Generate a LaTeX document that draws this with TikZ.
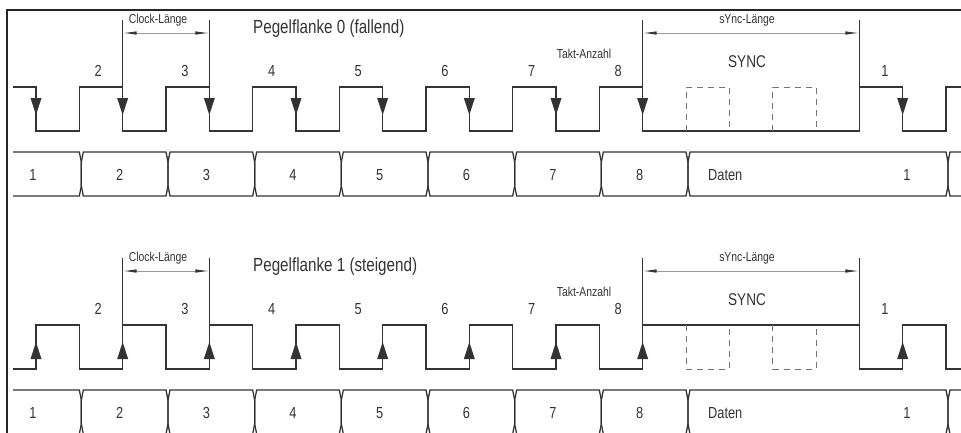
\documentclass[tikz,border=0pt]{standalone}
\usepackage{fontspec}
\setmainfont[FakeStretch=0.8]{Liberation Sans}
\usetikzlibrary{arrows.meta}

\newcommand{\hp}{43.333}

\begin{document}
\begin{tikzpicture}[x=1pt,y=-1pt,
		sig/.style={draw=black!80,line width=1.6pt},
		bus/.style={draw=black!80,line width=1.3pt},
		ghost/.style={draw=black!55,line width=1pt,dash pattern=on 6pt off 5pt},
		helpline/.style={draw=black!80,line width=0.9pt},
		dimline/.style={draw=black!40,line width=0.9pt,>={Latex[length=14pt,width=3.5pt,color=black!80]},<->},
		flank/.style={fill=black!80},
		title/.style={anchor=base west,inner sep=0pt,text=black!80,font=\fontsize{19}{19}\selectfont},
		num/.style={anchor=base,inner sep=0pt,text=black!80,font=\fontsize{16}{16}\selectfont},
		small/.style={anchor=base,inner sep=0pt,text=black!80,font=\fontsize{13}{13}\selectfont}]
		\clip (0,0) rectangle (961,432);
		\draw[black!85,line width=2.4pt] (7,440) -- (7,10) -- (970,10);

		\begin{scope}
			\draw[sig] (13,87) foreach \k in {0,...,6} { -- ({36+2*\k*\hp},87) -- ({36+2*\k*\hp},131) -- ({36+(2*\k+1)*\hp},131) -- ({36+(2*\k+1)*\hp},87) }
				-- ({36+14*\hp},87) -- ({36+14*\hp},131) -- ({36+19*\hp},131) -- ({36+19*\hp},87)
				-- ({36+20*\hp},87) -- ({36+20*\hp},131) -- ({36+21*\hp},131) -- ({36+21*\hp},87) -- (961,87);
			\foreach \n in {0,2,4,6,8,10,12,14,20}
				\fill[flank] ({36+\n*\hp-5.5},98) -- ({36+\n*\hp+5.5},98) -- ({36+\n*\hp},115) -- cycle;
			\foreach \n in {15,17}
				\draw[ghost] ({36+\n*\hp},131) -- ({36+\n*\hp},87) -- ({36+(\n+1)*\hp},87) -- ({36+(\n+1)*\hp},131);

			\draw[bus] (13,152) -- ({38+\hp-2},152) -- ({38+\hp},162) -- ({38+\hp},186) -- ({38+\hp-2},196) -- (13,196);
			\foreach \a/\b in {1/3,3/5,5/7,7/9,9/11,11/13,13/15,15/21}
				\draw[bus] ({38+\a*\hp+2},152) -- ({38+\b*\hp-2},152) -- ({38+\b*\hp},162) -- ({38+\b*\hp},186) -- ({38+\b*\hp-2},196)
					-- ({38+\a*\hp+2},196) -- ({38+\a*\hp},186) -- ({38+\a*\hp},162) -- cycle;
			\draw[bus] (975,152) -- ({38+21*\hp+2},152) -- ({38+21*\hp},162) -- ({38+21*\hp},186) -- ({38+21*\hp+2},196) -- (975,196);

			\draw[helpline] ({36+2*\hp},20) -- ({36+2*\hp},87);
			\draw[helpline] ({36+4*\hp},20) -- ({36+4*\hp},87);
			\draw[dimline] ({36+2*\hp},33) -- ({36+4*\hp},33);
			\draw[helpline] ({36+14*\hp},20) -- ({36+14*\hp},87);
			\draw[helpline] ({36+19*\hp},20) -- ({36+19*\hp},87);
			\draw[dimline] ({36+14*\hp},33) -- ({36+19*\hp},33);

			\node[small] (clockA) at (158,23) {Clock-Länge};
			\node[small] (synclenA) at (747,23) {sYnc-Länge};
			\node[title] (titleA) at (253,33) {Pegelflanke 0 (fallend)};
			\node[small] (taktA) at (584,58) {Takt-Anzahl};
			\node[num,font=\fontsize{17}{17}\selectfont] (syncA) at (747,67) {SYNC};
			\foreach \k in {2,...,8}
				\node[num] (topA\k) at ({98.3+(\k-2)*2*\hp},76) {\k};
			\node[num] (topA1) at (885,76) {1};
			\foreach \k in {1,...,8}
				\node[num] (busA\k) at ({33+(\k-1)*2*\hp},180) {\k};
			\node[num,anchor=base west] (datenA) at (708,180) {Daten};
			\node[num] (busA9) at (907,180) {1};
		\end{scope}

		\begin{scope}[shift={(0,238)}]
			\draw[sig] (13,131) foreach \k in {0,...,6} { -- ({36+2*\k*\hp},131) -- ({36+2*\k*\hp},87) -- ({36+(2*\k+1)*\hp},87) -- ({36+(2*\k+1)*\hp},131) }
				-- ({36+14*\hp},131) -- ({36+14*\hp},87) -- ({36+19*\hp},87) -- ({36+19*\hp},131)
				-- ({36+20*\hp},131) -- ({36+20*\hp},87) -- ({36+21*\hp},87) -- ({36+21*\hp},131) -- (961,131);
			\foreach \n in {0,2,4,6,8,10,12,14,20}
				\fill[flank] ({36+\n*\hp-5.5},121) -- ({36+\n*\hp+5.5},121) -- ({36+\n*\hp},104) -- cycle;
			\foreach \n in {15,17}
				\draw[ghost] ({36+\n*\hp},87) -- ({36+\n*\hp},131) -- ({36+(\n+1)*\hp},131) -- ({36+(\n+1)*\hp},87);

			\draw[bus] (13,152) -- ({38+\hp-2},152) -- ({38+\hp},162) -- ({38+\hp},186) -- ({38+\hp-2},196) -- (13,196);
			\foreach \a/\b in {1/3,3/5,5/7,7/9,9/11,11/13,13/15,15/21}
				\draw[bus] ({38+\a*\hp+2},152) -- ({38+\b*\hp-2},152) -- ({38+\b*\hp},162) -- ({38+\b*\hp},186) -- ({38+\b*\hp-2},196)
					-- ({38+\a*\hp+2},196) -- ({38+\a*\hp},186) -- ({38+\a*\hp},162) -- cycle;
			\draw[bus] (975,152) -- ({38+21*\hp+2},152) -- ({38+21*\hp},162) -- ({38+21*\hp},186) -- ({38+21*\hp+2},196) -- (975,196);

			\draw[helpline] ({36+2*\hp},20) -- ({36+2*\hp},87);
			\draw[helpline] ({36+4*\hp},20) -- ({36+4*\hp},87);
			\draw[dimline] ({36+2*\hp},33) -- ({36+4*\hp},33);
			\draw[helpline] ({36+14*\hp},20) -- ({36+14*\hp},87);
			\draw[helpline] ({36+19*\hp},20) -- ({36+19*\hp},87);
			\draw[dimline] ({36+14*\hp},33) -- ({36+19*\hp},33);

			\node[small] (clockB) at (158,23) {Clock-Länge};
			\node[small] (synclenB) at (747,23) {sYnc-Länge};
			\node[title] (titleB) at (253,33) {Pegelflanke 1 (steigend)};
			\node[small] (taktB) at (584,58) {Takt-Anzahl};
			\node[num,font=\fontsize{17}{17}\selectfont] (syncB) at (747,67) {SYNC};
			\foreach \k in {2,...,8}
				\node[num] (topB\k) at ({98.3+(\k-2)*2*\hp},76) {\k};
			\node[num] (topB1) at (885,76) {1};
			\foreach \k in {1,...,8}
				\node[num] (busB\k) at ({33+(\k-1)*2*\hp},180) {\k};
			\node[num,anchor=base west] (datenB) at (708,180) {Daten};
			\node[num] (busB9) at (907,180) {1};
		\end{scope}
\end{tikzpicture}
\end{document}
